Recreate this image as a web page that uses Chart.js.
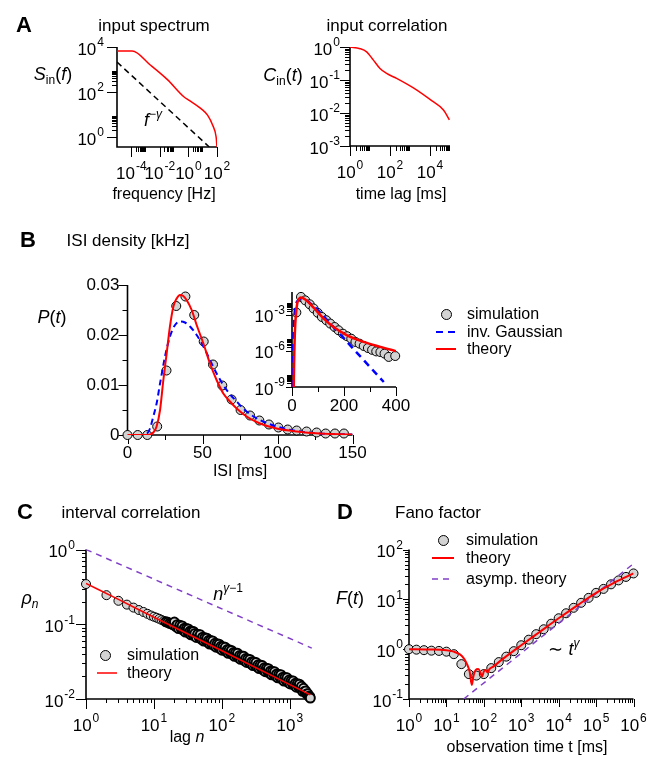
<!DOCTYPE html>
<html>
<head>
<meta charset="utf-8">
<script src="https://cdn.jsdelivr.net/npm/chart.js@4.4.0/dist/chart.umd.min.js"></script>
<style>
  body { margin: 0; background: #fff; }
  #fig { position: relative; width: 657px; height: 757px; overflow: hidden; background: #fff;
         font-family: "Liberation Sans", Arial, Helvetica, sans-serif; color: #000; }
  #fig canvas { position: absolute; left: 0; top: 0; }
  .t { position: absolute; transform: translate(-50%, -50%); white-space: nowrap; line-height: 1; font-size: 16px; z-index: 5; }
  .l { transform: translate(0, -50%); }
  .b { font-weight: bold; font-size: 22px; }
  .h { font-size: 17px; }
  .m { font-size: 18px; }
  .sub { font-size: 12px; position: relative; top: 4px; }
  .sup { font-size: 12px; position: relative; top: -8px; }
  .mk { position: absolute; z-index: 5; }
</style>
</head>
<body>
<div id="fig">
  <div class="t b" style="left:24px;top:25px">A</div>
  <div class="t h" style="left:154px;top:25px">input spectrum</div>
  <div class="t h" style="left:387px;top:25px">input correlation</div>
  <div class="t m" style="left:53px;top:74px"><i>S</i><span class="sub">in</span>(<i>f</i>)</div>
  <div class="t m" style="left:153px;top:120px"><i>f</i><span class="sup">−<i>γ</i></span></div>
  <div class="t" style="left:164px;top:194px">frequency [Hz]</div>
  <div class="t m" style="left:283px;top:75px"><i>C</i><span class="sub">in</span>(<i>t</i>)</div>
  <div class="t" style="left:401px;top:194px">time lag [ms]</div>

  <div class="t b" style="left:28px;top:240px">B</div>
  <div class="t h" style="left:128px;top:240px">ISI density [kHz]</div>
  <div class="t m" style="left:52px;top:317px"><i>P</i>(<i>t</i>)</div>
  <div class="t" style="left:240px;top:471px">ISI [ms]</div>
  <div class="t l" style="left:467px;top:314px">simulation</div>
  <div class="t l" style="left:467px;top:332px">inv. Gaussian</div>
  <div class="t l" style="left:467px;top:349px">theory</div>
  <div class="mk" style="left:441px;top:309px;width:9px;height:9px;border:1px solid #000;border-radius:50%;background:#d3d3d3"></div>
  <svg class="mk" style="left:434px;top:328px" width="24" height="8"><line x1="2" y1="4" x2="22" y2="4" stroke="#0000ff" stroke-width="2" stroke-dasharray="7,5"/></svg>
  <svg class="mk" style="left:434px;top:345px" width="24" height="8"><line x1="2" y1="4" x2="22" y2="4" stroke="#ff0000" stroke-width="2"/></svg>

  <div class="t b" style="left:25px;top:512px">C</div>
  <div class="t h" style="left:131px;top:512px">interval correlation</div>
  <div class="t m" style="left:30px;top:598px"><i>ρ<span class="sub">n</span></i></div>
  <div class="t m" style="left:228px;top:594px"><i>n</i><span class="sup"><i>γ</i>−1</span></div>
  <div class="t" style="left:187px;top:737px">lag <i>n</i></div>
  <div class="t l" style="left:127px;top:655px">simulation</div>
  <div class="t l" style="left:127px;top:673px">theory</div>
  <div class="mk" style="left:100px;top:650px;width:9px;height:9px;border:1px solid #000;border-radius:50%;background:#d3d3d3"></div>
  <svg class="mk" style="left:95px;top:669px" width="24" height="8"><line x1="2" y1="4" x2="22" y2="4" stroke="#ff0000" stroke-width="1.5"/></svg>

  <div class="t b" style="left:345px;top:512px">D</div>
  <div class="t h" style="left:438px;top:512px">Fano factor</div>
  <div class="t m" style="left:350px;top:598px"><i>F</i>(<i>t</i>)</div>
  <div class="t m" style="left:564px;top:649px">∼ <i>t</i><span class="sup"><i>γ</i></span></div>
  <div class="t" style="left:527px;top:747px">observation time t [ms]</div>
  <div class="t l" style="left:466px;top:540px">simulation</div>
  <div class="t l" style="left:466px;top:558px">theory</div>
  <div class="t l" style="left:466px;top:579px">asymp. theory</div>
  <div class="mk" style="left:438px;top:535px;width:9px;height:9px;border:1px solid #000;border-radius:50%;background:#d3d3d3"></div>
  <svg class="mk" style="left:430px;top:554px" width="26" height="8"><line x1="2" y1="4" x2="24" y2="4" stroke="#ff0000" stroke-width="2"/></svg>
  <svg class="mk" style="left:430px;top:575px" width="26" height="8"><line x1="2" y1="4" x2="24" y2="4" stroke="#8040c8" stroke-width="1.5" stroke-dasharray="6,5"/></svg>
</div>
<script>
const W = 657, H = 757;
const FONT = '"Liberation Sans", Arial, Helvetica, sans-serif';

// ---- A: input spectrum ----
const specFreq = [1e-5, 1.15e-4, 2.24e-3, 3.39e-2, 0.5, 1.12, 7.6, 22.4, 50, 87, 100];
const specPow = [6600, 6600, 1550, 355, 60, 43, 18.2, 9.1, 3.3, 1.0, 0.36];
const powerLawFreq = [1e-5, 28.8];
const powerLawPow = [2140, 0.36];

// ---- A: input correlation ----
const corrLag = [1, 3.16, 6.8, 14.8, 31.6, 67.6, 214, 1480, 1e4, 4.7e4, 9.3e4];
const corrVal = [1.0, 0.89, 0.71, 0.40, 0.224, 0.158, 0.112, 0.0575, 0.0257, 0.0123, 0.0062];

// ---- B: ISI density ----
const isiSimT = [0, 6.8, 13.2, 19.8, 26, 32.5, 38.6, 44.5, 50.8, 57, 63.2, 69.4, 75.4, 81.7, 87.9, 94.3, 100.6, 106.8, 112.8, 119.4, 126.1, 132.1, 138.3, 144.3];
const isiSimP = [0, 0, 0, 0.0017, 0.0129, 0.0258, 0.0277, 0.024, 0.0187, 0.0141, 0.0099, 0.0071, 0.005, 0.0039, 0.0029, 0.0021, 0.0015, 0.0011, 0.0009, 0.0007, 0.0005, 0.0003, 0.0003, 0.0003];
const isiThT = [0, 13.9, 17.2, 19.4, 21.7, 23.9, 26.1, 28.3, 30.6, 32.8, 35, 37.2, 39.4, 42.8, 46.1, 50.6, 55, 59.4, 63.9, 68.3, 72.8, 79.4, 88.3, 99.4, 112.8, 128.3, 150];
const isiThP = [0, 0, 0.0005, 0.0017, 0.005, 0.011, 0.0163, 0.0217, 0.0257, 0.0273, 0.028, 0.0278, 0.027, 0.025, 0.022, 0.0183, 0.0143, 0.011, 0.0083, 0.0067, 0.0053, 0.0037, 0.0023, 0.0013, 0.0007, 0.0003, 0.0001];
const isiIgT = [0, 10.6, 12.8, 15, 17.2, 19.4, 21.7, 25, 28.3, 31.7, 35, 38.3, 41.7, 46.1, 50.6, 55, 59.4, 66.1, 72.8, 79.4, 88.3, 99.4, 112.8, 128.3, 150];
const isiIgP = [0, 0, 0.0002, 0.0013, 0.0037, 0.0063, 0.0103, 0.0157, 0.0197, 0.022, 0.0227, 0.0225, 0.0217, 0.02, 0.0177, 0.015, 0.0123, 0.009, 0.0067, 0.0047, 0.003, 0.0017, 0.0008, 0.0003, 0.0001];

// inset (log)
const insSimT = [16.7, 34.6, 51, 68, 83, 99, 115, 132, 147, 164, 179, 196, 212, 228, 244, 260, 276, 292, 308, 324, 340, 356, 372, 397];
const insSimP = [1.48e-3, 2.9e-2, 1.5e-2, 7.1e-3, 3.2e-3, 1.4e-3, 6.3e-4, 3.4e-4, 1.8e-4, 9.3e-5, 5.0e-5, 2.6e-5, 1.6e-5, 1.0e-5, 5.4e-6, 3.9e-6, 2.5e-6, 1.7e-6, 1.2e-6, 8.9e-7, 7.9e-7, 5.8e-7, 3.1e-7, 3.7e-7];
const insThT = [6, 8, 11, 15, 20, 27, 34, 58, 83, 122, 160, 212, 276, 340, 401];
const insThP = [1e-10, 1e-7, 3e-5, 1e-3, 8e-3, 2e-2, 2.6e-2, 1.35e-2, 3.8e-3, 4.7e-4, 9.3e-5, 1.9e-5, 5.4e-6, 2.1e-6, 9.1e-7];
const insIgT = [1.5, 3, 6.4, 12.8, 25.6, 38, 83, 147, 250, 353];
const insIgP = [1e-10, 5e-8, 5e-5, 3.2e-3, 1.6e-2, 2e-2, 5e-3, 1.8e-4, 6.8e-7, 2.6e-9];

// ---- C: interval correlation ----
const lagSim = [1, 2, 3, 4, 5, 6, 7, 8, 9, 10, 11, 12, 13, 14, 15, 16, 17, 18, 19,
  20, 21, 22, 23, 24, 25, 26, 27, 28, 29, 30, 31, 32, 33, 34, 35, 36, 37, 38, 39, 40,
  42, 44, 46, 48, 50, 52, 54, 56, 58, 60, 62, 64, 66, 68, 70, 73, 76, 79, 82, 85, 88, 91, 94, 97,
  100, 104, 108, 112, 116, 120, 124, 128, 133, 138, 143, 148, 153, 158, 164, 170, 176, 182, 188, 195,
  202, 209, 216, 224, 232, 240, 249, 258, 267, 276, 286, 296, 307, 318, 329, 341, 353, 366, 379, 392,
  406, 420, 435, 451, 467, 484, 501, 519, 537, 556, 576, 597, 618, 640, 663, 687, 711, 737, 763, 790,
  818, 847, 877, 908, 941, 974, 1009, 1045, 1082, 1121, 1161, 1202, 1245, 1289, 1335, 1383, 1432, 1483,
  1536, 1591, 1647, 1706, 1767, 1830, 1895, 1962, 2000];
const rhoSim = [0.345, 0.245, 0.206, 0.183, 0.167, 0.155, 0.146, 0.138, 0.131, 0.126, 0.122, 0.118, 0.114, 0.111, 0.108, 0.106, 0.103, 0.101, 0.099,
  0.107, 0.093, 0.0988, 0.0874, 0.0968, 0.0887, 0.0951, 0.083, 0.0886, 0.0787, 0.0875, 0.0805, 0.0866, 0.0758, 0.0811, 0.0723, 0.0806, 0.0743, 0.0802, 0.0703, 0.0754,
  0.0666, 0.0736, 0.0674, 0.0722, 0.0629, 0.067, 0.0595, 0.066, 0.0607, 0.0652, 0.0571, 0.061, 0.0543, 0.0605, 0.0557, 0.0597, 0.0521, 0.0555, 0.0493, 0.0547, 0.0503, 0.054, 0.0473, 0.0506,
  0.045, 0.05, 0.0458, 0.0492, 0.043, 0.0459, 0.0408, 0.0455, 0.0417, 0.0447, 0.0391, 0.0418, 0.0372, 0.0414, 0.038, 0.0408, 0.0356, 0.0381, 0.0339, 0.0376,
  0.0346, 0.0372, 0.0325, 0.0347, 0.0308, 0.0342, 0.0315, 0.0338, 0.0295, 0.0316, 0.028, 0.0312, 0.0286, 0.0307, 0.0269, 0.0287, 0.0255, 0.0284, 0.026, 0.028,
  0.0244, 0.0261, 0.0232, 0.0258, 0.0237, 0.0254, 0.0222, 0.0237, 0.0211, 0.0234, 0.0215, 0.0231, 0.0202, 0.0216, 0.0192, 0.0213, 0.0196, 0.0211, 0.0184, 0.0196,
  0.0174, 0.0194, 0.0178, 0.0192, 0.0167, 0.0179, 0.0159, 0.0176, 0.0162, 0.0174, 0.0152, 0.0162, 0.0144, 0.016, 0.0147, 0.0158, 0.0138, 0.0148,
  0.0127, 0.0139, 0.0126, 0.0128, 0.0117, 0.0118, 0.0109, 0.0108, 0.0103];
const lagTh = [1, 3, 10, 100, 1000, 2000];
const rhoTh = [0.352, 0.215, 0.124, 0.0442, 0.0156, 0.0114];
const lagAsym = [1, 2100];
const rhoAsym = [1, 0.048];

// ---- D: Fano factor ----
const fanoSimT = [1, 1.58, 2.51, 3.98, 6.31, 10, 15.8, 25.1, 39.8, 63.1, 100, 158, 251, 398, 631, 1000, 1585, 2512, 3981, 6310, 1e4, 1.58e4, 2.51e4, 3.98e4, 6.31e4, 1e5, 1.58e5, 2.51e5, 3.98e5, 6.31e5, 1e6];
const fanoSimF = [1.0, 0.977, 0.955, 0.933, 0.923, 0.891, 0.794, 0.501, 0.316, 0.295, 0.316, 0.417, 0.55, 0.708, 0.912, 1.2, 1.55, 2.0, 2.51, 3.24, 4.17, 5.25, 6.76, 8.51, 10.7, 13.5, 16.2, 20, 24, 28.2, 33.1];
const fanoThT = [1, 3.16, 10, 15.8, 22.4, 28.2, 35.5, 41.7, 47.9, 52.5, 60.3, 70.8, 79.4, 89.1, 100, 112, 126, 141, 178, 316, 1000, 3162, 1e4, 31623, 1e5, 316228, 1e6];
const fanoThF = [1, 0.989, 0.955, 0.891, 0.794, 0.676, 0.501, 0.355, 0.191, 0.282, 0.38, 0.398, 0.355, 0.282, 0.355, 0.38, 0.339, 0.398, 0.447, 0.631, 1.2, 2.24, 4.17, 7.59, 13.5, 21.9, 33.1];
const fanoAsymT = [29, 1e6];
const fanoAsymF = [0.1, 52];

// ---- helpers ----
const pts = (xs, ys) => xs.map((v, i) => ({x: v, y: ys[i]}));
const lineDs = (xs, ys, color, width, dash) => ({
  data: pts(xs, ys), showLine: true, pointRadius: 0, borderColor: color, borderWidth: width,
  borderDash: dash || [], cubicInterpolationMode: 'monotone', fill: false
});
const simDs = (xs, ys, bw) => ({
  data: pts(xs, ys), showLine: false, pointRadius: 4.5,
  backgroundColor: '#d3d3d3', pointBackgroundColor: '#d3d3d3',
  borderColor: '#000', pointBorderColor: '#000', borderWidth: bw || 1, pointBorderWidth: bw || 1, clip: false
});
const minorsOf = (decs, lo, hi) => decs.flatMap(d => [2, 3, 4, 5, 6, 7, 8, 9].map(k => k * d)).filter(v => v > lo && v < hi);

function tickLabel(ctx, base, exp, x, y, align) {
  ctx.font = `17px ${FONT}`;
  const wb = ctx.measureText(base).width;
  let we = 0;
  if (exp) { ctx.font = `12px ${FONT}`; we = ctx.measureText(exp).width + 1; }
  const x0 = align === 'right' ? x - wb - we : x - (wb + we) / 2;
  ctx.textAlign = 'left';
  ctx.textBaseline = 'middle';
  ctx.font = `17px ${FONT}`;
  ctx.fillText(base, x0, y);
  if (exp) { ctx.font = `12px ${FONT}`; ctx.fillText(exp, x0 + wb + 1, y - 7); }
}

function makeAxes(spec) {
  return {
    id: 'axes',
    beforeDatasetsDraw(chart) {
      const {ctx, chartArea: a} = chart;
      const sx = chart.scales.x, sy = chart.scales.y;
      ctx.save();
      ctx.strokeStyle = '#000';
      ctx.fillStyle = '#000';
      ctx.lineWidth = 1;
      const tick = (x1, y1, x2, y2) => { ctx.beginPath(); ctx.moveTo(x1, y1); ctx.lineTo(x2, y2); ctx.stroke(); };
      spec.x.major.forEach(v => { const p = Math.round(sx.getPixelForValue(v)) + 0.5; tick(p, a.bottom, p, a.bottom + spec.x.len[0]); });
      spec.x.minor.forEach(v => { const p = Math.round(sx.getPixelForValue(v)) + 0.5; tick(p, a.bottom, p, a.bottom + spec.x.len[1]); });
      spec.y.major.forEach(v => { const p = Math.round(sy.getPixelForValue(v)) + 0.5; tick(a.left, p, a.left - spec.y.len[0], p); });
      spec.y.minor.forEach(v => { const p = Math.round(sy.getPixelForValue(v)) + 0.5; tick(a.left, p, a.left - spec.y.len[1], p); });
      ctx.lineWidth = 1.6;
      ctx.beginPath();
      ctx.moveTo(a.left, a.top);
      ctx.lineTo(a.left, a.bottom);
      ctx.lineTo(a.right, a.bottom);
      ctx.stroke();
      spec.x.labels.forEach(([v, b, e]) => tickLabel(ctx, b, e, sx.getPixelForValue(v), a.bottom + spec.x.off, 'center'));
      spec.y.labels.forEach(([v, b, e]) => tickLabel(ctx, b, e, a.left - spec.y.gap, sy.getPixelForValue(v) + (e ? 3 : 0), 'right'));
      ctx.restore();
    }
  };
}

function makeChart(area, xs, ys, datasets, axes) {
  const canvas = document.createElement('canvas');
  canvas.width = W;
  canvas.height = H;
  document.getElementById('fig').appendChild(canvas);
  return new Chart(canvas.getContext('2d'), {
    type: 'scatter',
    data: {datasets},
    options: {
      responsive: false, animation: false, devicePixelRatio: 1, events: [],
      layout: {padding: {left: area[0], top: area[1], right: W - area[2], bottom: H - area[3]}},
      plugins: {legend: {display: false}, tooltip: {enabled: false}, title: {display: false}},
      scales: {
        x: Object.assign({display: false}, xs),
        y: Object.assign({display: false}, ys)
      }
    },
    plugins: [makeAxes(axes)]
  });
}

// A left: spectrum
makeChart([117, 47, 217, 147],
  {type: 'logarithmic', min: 1e-5, max: 100},
  {type: 'logarithmic', min: 0.36, max: 1e4},
  [lineDs(specFreq, specPow, '#ff0000', 1.5), lineDs(powerLawFreq, powerLawPow, '#000', 1.5, [6, 4])],
  {
    x: {major: [1e-4, 1e-2, 1, 100], minor: minorsOf([1e-4, 1e-2, 1], 1e-5, 100), len: [10, 5], off: 27,
        labels: [[1e-4, '10', '-4'], [1e-2, '10', '-2'], [1, '10', '0'], [100, '10', '2']]},
    y: {major: [1, 100, 1e4], minor: minorsOf([1, 100], 0.36, 1e4), len: [10, 5], gap: 13,
        labels: [[1, '10', '0'], [100, '10', '2'], [1e4, '10', '4']]}
  });

// A right: correlation
makeChart([350, 47, 450, 146],
  {type: 'logarithmic', min: 1, max: 1e5},
  {type: 'logarithmic', min: 1e-3, max: 1},
  [lineDs(corrLag, corrVal, '#ff0000', 1.5)],
  {
    x: {major: [1, 100, 1e4], minor: minorsOf([1, 100, 1e4], 1, 1e5), len: [10, 5], off: 27,
        labels: [[1, '10', '0'], [100, '10', '2'], [1e4, '10', '4']]},
    y: {major: [1, 0.1, 0.01, 0.001], minor: minorsOf([1e-3, 1e-2, 1e-1], 1e-3, 1), len: [10, 5], gap: 10,
        labels: [[1, '10', '0'], [0.1, '10', '-1'], [0.01, '10', '-2'], [0.001, '10', '-3']]}
  });

// B main
makeChart([127.5, 285, 352.5, 435],
  {type: 'linear', min: 0, max: 150},
  {type: 'linear', min: 0, max: 0.03},
  [lineDs(isiThT, isiThP, '#ff0000', 2), lineDs(isiIgT, isiIgP, '#0000ff', 2, [6, 4]), simDs(isiSimT, isiSimP)],
  {
    x: {major: [0, 50, 100, 150], minor: [25, 75, 125], len: [9, 5], off: 18,
        labels: [[0, '0'], [50, '50'], [100, '100'], [150, '150']]},
    y: {major: [0, 0.01, 0.02, 0.03], minor: [0.005, 0.015, 0.025], len: [9, 5], gap: 8,
        labels: [[0, '0'], [0.01, '0.01'], [0.02, '0.02'], [0.03, '0.03']]}
  });

// B inset
makeChart([292, 292, 396, 387],
  {type: 'linear', min: 0, max: 400},
  {type: 'logarithmic', min: 1e-9, max: 0.074},
  [lineDs(insThT, insThP, '#ff0000', 2.5), lineDs(insIgT, insIgP, '#0000ff', 2.5, [7, 5]), simDs(insSimT, insSimP)],
  {
    x: {major: [0, 200, 400], minor: [100, 300], len: [9, 5], off: 19,
        labels: [[0, '0'], [200, '200'], [400, '400']]},
    y: {major: [1e-9, 1e-6, 1e-3], minor: minorsOf([1e-9, 1e-6, 1e-3], 1e-9, 0.074), len: [6, 5], gap: 7,
        labels: [[1e-9, '10', '-9'], [1e-6, '10', '-6'], [1e-3, '10', '-3']]}
  });

// C (dense band of simulated lags: heavier outlines so overlapping rings read as the dark band)
const denseBorder = c => (c.raw && c.raw.x > 14 ? 2 : 1);
makeChart([86, 549.5, 313, 699],
  {type: 'logarithmic', min: 1, max: 2190},
  {type: 'logarithmic', min: 0.01, max: 1},
  [lineDs(lagTh, rhoTh, '#ff0000', 1.5), lineDs(lagAsym, rhoAsym, '#8040c8', 1.5, [6, 5]), simDs(lagSim, rhoSim, denseBorder)],
  {
    x: {major: [1, 10, 100, 1000], minor: minorsOf([1, 10, 100, 1000], 1, 2190), len: [10, 4], off: 27,
        labels: [[1, '10', '0'], [10, '10', '1'], [100, '10', '2'], [1000, '10', '3']]},
    y: {major: [0.01, 0.1, 1], minor: minorsOf([0.01, 0.1], 0.01, 1), len: [10, 4], gap: 11,
        labels: [[0.01, '10', '-2'], [0.1, '10', '-1'], [1, '10', '0']]}
  });

// D
makeChart([409, 549.5, 633.5, 699],
  {type: 'logarithmic', min: 1, max: 1e6},
  {type: 'logarithmic', min: 0.1, max: 100},
  [lineDs(fanoThT, fanoThF, '#ff0000', 2), lineDs(fanoAsymT, fanoAsymF, '#8040c8', 1.5, [6, 5]), simDs(fanoSimT, fanoSimF)],
  {
    x: {major: [1, 10, 100, 1e3, 1e4, 1e5, 1e6], minor: minorsOf([1, 10, 100, 1e3, 1e4, 1e5], 1, 1e6), len: [8, 4], off: 27,
        labels: [[1, '10', '0'], [10, '10', '1'], [100, '10', '2'], [1e3, '10', '3'], [1e4, '10', '4'], [1e5, '10', '5'], [1e6, '10', '6']]},
    y: {major: [0.1, 1, 10, 100], minor: minorsOf([0.1, 1, 10], 0.1, 100), len: [6, 4], gap: 6,
        labels: [[0.1, '10', '-1'], [1, '10', '0'], [10, '10', '1'], [100, '10', '2']]}
  });
</script>
</body>
</html>
